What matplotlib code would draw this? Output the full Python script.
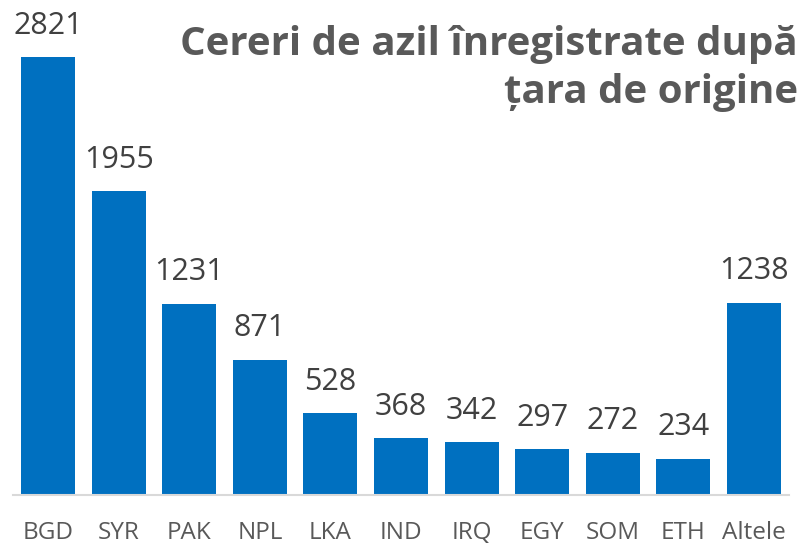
import matplotlib
matplotlib.use("Agg")
import matplotlib.pyplot as plt

countries = ["BGD", "SYR", "PAK", "NPL", "LKA", "IND", "IRQ", "EGY", "SOM", "ETH", "Altele"]
values = [2821, 1955, 1231, 871, 528, 368, 342, 297, 272, 234, 1238]

plt.rcParams['font.family'] = ['Open Sans', 'DejaVu Sans']

fig = plt.figure(figsize=(8.05, 5.45), dpi=100)
ax = fig.add_axes([13/805, 50/545, 776/805, 495/545])

bars = ax.bar(range(len(countries)), values, width=0.766, color="#0070C0")
for b, v in zip(bars, values):
    ax.text(b.get_x() + b.get_width()/2, v + 105, str(v), ha="center", va="bottom",
            fontsize=22, color="#404040")

ax.set_xlim(-0.5, len(countries) - 0.5)
ax.set_ylim(0, 3187)
ax.set_xticks(range(len(countries)))
ax.set_xticklabels(countries, fontsize=17.5, color="#595959")
ax.tick_params(axis="x", length=0, pad=19)
ax.set_yticks([])
for s in ["top", "right", "left"]:
    ax.spines[s].set_visible(False)
ax.spines["bottom"].set_color("#D9D9D9")
ax.spines["bottom"].set_linewidth(1.5)

fig.text(798/805, 1 - 68/545, "Cereri de azil înregistrate după\nțara de origine", ha="right", va="center",
         fontsize=29, fontweight="bold", color="#595959", linespacing=1.3)

fig.savefig("out.png", dpi=100)
